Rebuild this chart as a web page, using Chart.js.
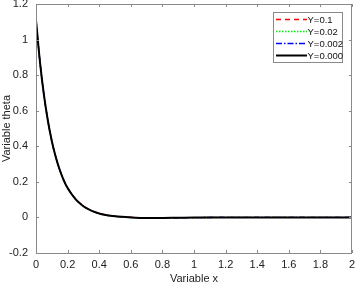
<!DOCTYPE html>
<html><head><meta charset="utf-8">
<script src="https://cdn.jsdelivr.net/npm/chart.js@4/dist/chart.umd.min.js"></script>
<style>html,body{margin:0;padding:0;background:#fff;}#c{display:block;}</style>
</head><body>
<canvas id="c" width="356" height="283"></canvas>
<script>
const xValues = [0, 0.025, 0.05, 0.075, 0.1, 0.125, 0.15, 0.175, 0.2, 0.25, 0.3, 0.35, 0.4, 0.45, 0.5, 0.6, 0.7, 0.8, 0.9, 1.0, 1.2, 1.5, 2.0];
const seriesY01   = [1.11, 0.875, 0.69, 0.545, 0.43, 0.34, 0.268, 0.211, 0.167, 0.105, 0.066, 0.040, 0.024, 0.013, 0.007, 0.001, -0.002, -0.003, -0.002, -0.001, 0, 0, 0];
const seriesY002  = [1.11, 0.875, 0.69, 0.545, 0.43, 0.34, 0.268, 0.210, 0.165, 0.103, 0.063, 0.038, 0.022, 0.012, 0.006, 0.000, -0.003, -0.003, -0.002, -0.001, 0, 0, 0];
const seriesY0002 = [1.11, 0.875, 0.69, 0.545, 0.43, 0.34, 0.268, 0.210, 0.165, 0.103, 0.063, 0.038, 0.022, 0.012, 0.006, 0.000, -0.003, -0.003, -0.002, -0.001, 0, 0, 0];
const seriesY0000 = [1.11, 0.875, 0.69, 0.545, 0.43, 0.34, 0.268, 0.210, 0.165, 0.103, 0.063, 0.038, 0.022, 0.012, 0.006, 0.000, -0.003, -0.003, -0.002, -0.001, 0, 0, 0];
const seriesLabels = ['Y=0.1', 'Y=0.02', 'Y=0.002', 'Y=0.000'];
const xTicks = [0, 0.2, 0.4, 0.6, 0.8, 1, 1.2, 1.4, 1.6, 1.8, 2];
const xTickLabels = ['0', '0.2', '0.4', '0.6', '0.8', '1', '1.2', '1.4', '1.6', '1.8', '2'];
const yTicks = [-0.2, 0, 0.2, 0.4, 0.6, 0.8, 1, 1.2];
const yTickLabels = ['-0.2', '0', '0.2', '0.4', '0.6', '0.8', '1', '1.2'];

const FONT = 'Liberation Sans, Arial, sans-serif';
const AXIS = '#8a8a8a';
const toPts = ys => xValues.map((x, i) => ({x: x, y: ys[i]}));

const boxPlugin = {
  id: 'box',
  afterDatasetsDraw(chart) {
    const ctx = chart.ctx, a = chart.chartArea;
    const xs = chart.scales.x, ys = chart.scales.y;
    ctx.save();
    ctx.strokeStyle = AXIS; ctx.lineWidth = 1;
    ctx.strokeRect(Math.round(a.left) + 0.5, Math.round(a.top) + 0.5, Math.round(a.right - a.left) - 1, Math.round(a.bottom - a.top));
    const L = 3;
    ctx.beginPath();
    xTicks.forEach(v => {
      const p = Math.round(xs.getPixelForValue(v)) + 0.5;
      ctx.moveTo(p, a.bottom); ctx.lineTo(p, a.bottom - L);
      ctx.moveTo(p, a.top); ctx.lineTo(p, a.top + L);
    });
    yTicks.forEach(v => {
      const p = Math.round(ys.getPixelForValue(v)) + 0.5;
      ctx.moveTo(a.left, p); ctx.lineTo(a.left + L, p);
      ctx.moveTo(a.right, p); ctx.lineTo(a.right - L, p);
    });
    ctx.stroke();
    // legend
    const lx = 273, ly = 12, lw = 69, lh = 50;
    ctx.fillStyle = '#fff';
    ctx.fillRect(lx, ly, lw, lh);
    ctx.strokeStyle = '#8a8a8a';
    ctx.strokeRect(lx + 0.5, ly + 0.5, lw, lh);
    ctx.font = '9.5px ' + FONT;
    ctx.textBaseline = 'middle';
    ctx.textAlign = 'left';
    const rows = [19.5, 31.5, 43.5, 55.5];
    chart.data.datasets.forEach((ds, i) => {
      const y = rows[i];
      ctx.beginPath();
      ctx.strokeStyle = ds.borderColor;
      ctx.lineWidth = ds.borderWidth;
      ctx.setLineDash(ds.borderDash || []);
      ctx.moveTo(276, y); ctx.lineTo(307, y);
      ctx.stroke();
      ctx.setLineDash([]);
      ctx.fillStyle = '#111';
      ctx.fillText(ds.label, 307.5, y + 0.5);
    });
    ctx.restore();
  }
};

new Chart(document.getElementById('c'), {
  type: 'line',
  data: {
    datasets: [
      {label: seriesLabels[0], data: toPts(seriesY01), borderColor: '#ff0000', borderWidth: 1.3, borderDash: [5, 4], order: 4},
      {label: seriesLabels[1], data: toPts(seriesY002), borderColor: '#00ee00', borderWidth: 1.3, borderDash: [1.5, 1.5], order: 3},
      {label: seriesLabels[2], data: toPts(seriesY0002), borderColor: '#0000ff', borderWidth: 1.3, borderDash: [6, 2, 1.5, 2], order: 2},
      {label: seriesLabels[3], data: toPts(seriesY0000), borderColor: '#000000', borderWidth: 2, order: 1}
    ]
  },
  options: {
    responsive: false,
    animation: false,
    parsing: false,
    elements: {point: {radius: 0}, line: {tension: 0.4, cubicInterpolationMode: 'monotone', fill: false}},
    layout: {padding: {top: 4, right: 4, left: 0, bottom: 0}},
    plugins: {legend: {display: false}, tooltip: {enabled: false}},
    scales: {
      x: {
        type: 'linear', min: 0, max: 2,
        afterBuildTicks: s => { s.ticks = xTicks.map(v => ({value: v})); },
        afterFit: s => { s.height = 30; s.paddingLeft = 0; s.paddingRight = 0; },
        grid: {display: false, drawTicks: false}, border: {display: false},
        ticks: {color: '#222', font: {family: FONT, size: 11}, padding: 5, maxRotation: 0, autoSkip: false,
          callback: (v, i) => xTickLabels[i]},
        title: {display: true, text: 'Variable x', color: '#222', font: {family: FONT, size: 11, lineHeight: 0.8}, padding: {top: 0, bottom: 0}}
      },
      y: {
        type: 'linear', min: -0.2, max: 1.2,
        afterBuildTicks: s => { s.ticks = yTicks.map(v => ({value: v})); },
        afterFit: s => { s.width = 36; s.paddingTop = 0; s.paddingBottom = 0; },
        grid: {display: false, drawTicks: false}, border: {display: false},
        ticks: {color: '#222', font: {family: FONT, size: 11}, padding: 8, autoSkip: false,
          callback: (v, i) => yTickLabels[i]},
        title: {display: true, text: 'Variable theta', color: '#222', font: {family: FONT, size: 11}, padding: {top: 0, bottom: 0}}
      }
    }
  },
  plugins: [boxPlugin]
});
</script>
</body></html>
